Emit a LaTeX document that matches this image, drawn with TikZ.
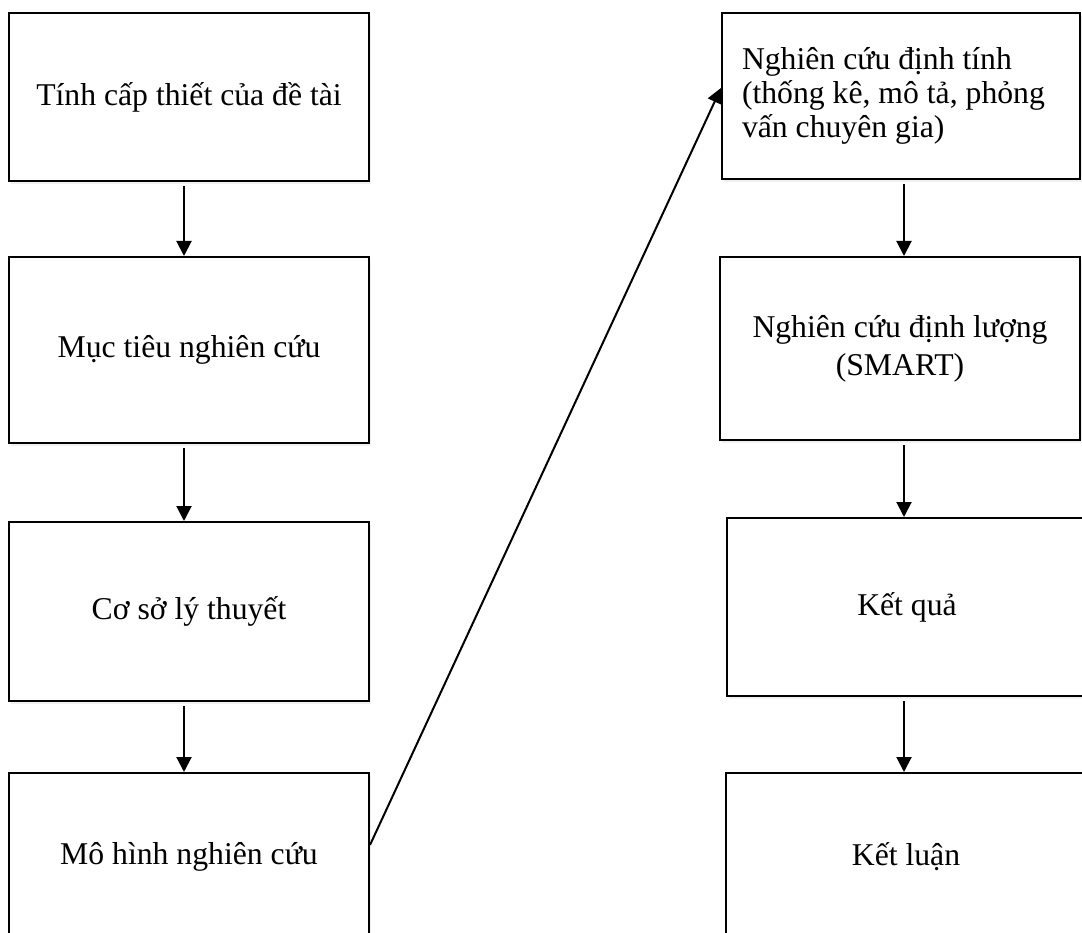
\documentclass[tikz,border=0pt]{standalone}
\usepackage{fontspec}
\setmainfont{Liberation Serif}
\usetikzlibrary{arrows.meta,shadows}
\begin{document}
\begin{tikzpicture}[
  box/.style={draw=black, line width=2pt, fill=white, inner sep=0pt,
    minimum width=360pt, align=center,
    font=\fontsize{31.7}{35}\selectfont,
    drop shadow={opacity=0.12, shadow xshift=2pt, shadow yshift=-3pt}},
  conn/.style={line width=2pt, -{Triangle[width=15pt,length=15pt]}}
]
\path[use as bounding box] (0,0) rectangle (1082pt,-933pt);
\clip (0,0) rectangle (1082pt,-933pt);
% left column
\node[box, minimum height=168pt] (L1) at (189pt,-97pt) {Tính cấp thiết của đề tài};
\node[box, minimum height=186pt] (L2) at (189pt,-350pt) {Mục tiêu nghiên cứu};
\node[box, minimum height=179pt] (L3) at (189pt,-611.5pt) {Cơ sở lý thuyết};
\node[box, minimum height=168pt] (L4) at (189pt,-857pt) {Mô hình nghiên cứu};
% right column
\node[box, minimum width=358pt, minimum height=166pt, text width=318pt, align=flush left,
  font=\fontsize{31.7}{34}\selectfont] (R1) at (901pt,-96pt)
  {Nghiên cứu định tính\\(thống kê, mô tả, phỏng\\vấn chuyên gia)};
\node[box, minimum height=183pt, font=\fontsize{31.7}{38}\selectfont] (R2) at (900pt,-348.5pt) {Nghiên cứu định lượng\\(SMART)};
\node[box, minimum height=178pt] (R3) at (907pt,-607pt) {Kết quả};
\node[box, minimum height=168pt] (R4) at (906pt,-857pt) {Kết luận};
% column axes for arrows
\coordinate (colL) at (184pt,0);
\coordinate (colR) at (904pt,0);
% arrows
\draw[conn] ([yshift=-4pt]L1.south -| colL) -- (L2.north -| colL);
\draw[conn] ([yshift=-4pt]L2.south -| colL) -- (L3.north -| colL);
\draw[conn] ([yshift=-4pt]L3.south -| colL) -- (L4.north -| colL);
\draw[conn] ([yshift=-4pt]R1.south -| colR) -- (R2.north -| colR);
\draw[conn] ([yshift=-4pt]R2.south -| colR) -- (R3.north -| colR);
\draw[conn] ([yshift=-4pt]R3.south -| colR) -- (R4.north -| colR);
\draw[conn] ([yshift=12pt]L4.east) -- ([yshift=8pt]R1.west);
\end{tikzpicture}
\end{document}
